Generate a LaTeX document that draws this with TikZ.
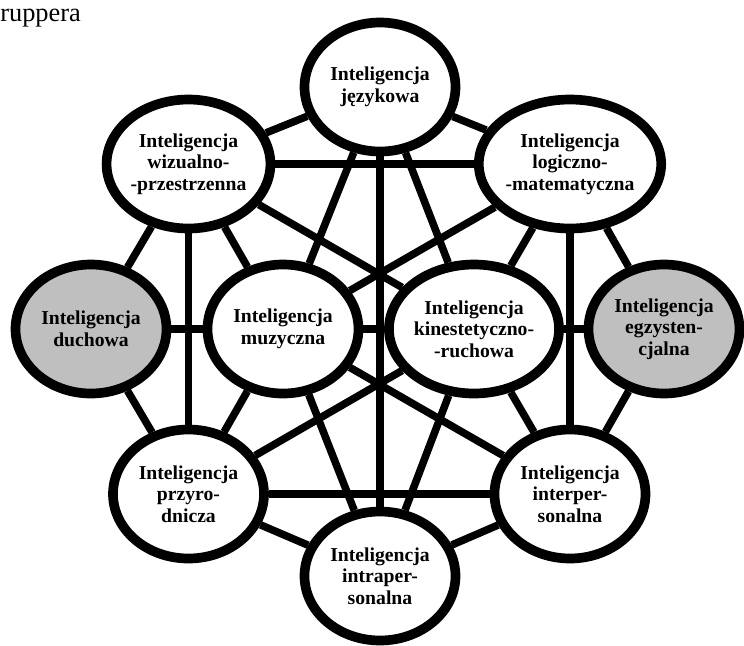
\documentclass[tikz,border=0pt]{standalone}
\usepackage{fontspec}
\setmainfont{Liberation Serif}
\usetikzlibrary{shapes.geometric,backgrounds}

\begin{document}
\begin{tikzpicture}[
  intel/.style={ellipse,draw=black,line width=5.5pt,fill=white,
    minimum width=3.02cm,minimum height=2.58cm,inner sep=0pt,align=center,
    font=\bfseries\fontsize{11.2}{12.2}\selectfont},
  extra/.style={intel,fill=black!25},
  link/.style={line width=4.3pt}]
% \draw[step=1cm,gray,very thin] (0,0) grid (14.88,-12.92);
\useasboundingbox (0,0) rectangle (14.88,-12.92);

\node[anchor=base west,inner sep=0pt,font=\fontsize{15}{18}\selectfont] (title) at (0,-0.42) {ruppera};

\node[intel] (jez) at (7.6,-1.74) {Inteligencja\\językowa};
\node[intel] (wiz) at (3.77,-3.28) {Inteligencja\\wizualno-\\-przestrzenna};
\node[intel] (log) at (11.4,-3.28) {Inteligencja\\logiczno-\\-matematyczna};
\node[extra] (duch) at (1.82,-6.58) {Inteligencja\\duchowa};
\node[intel] (muz) at (5.66,-6.58) {Inteligencja\\muzyczna};
\node[intel] (kin) at (9.48,-6.58) {Inteligencja\\kinestetyczno-\\-ruchowa};
\node[extra] (egz) at (13.28,-6.58) {Inteligencja\\egzysten-\\cjalna};
\node[intel] (prz) at (3.77,-9.88) {Inteligencja\\przyro-\\dnicza};
\node[intel] (ier) at (11.4,-9.88) {Inteligencja\\interper-\\sonalna};
\node[intel] (ira) at (7.6,-11.52) {Inteligencja\\intraper-\\sonalna};

\begin{scope}[on background layer]
% top part
\draw[link] (jez) -- (wiz);
\draw[link] (jez) -- (log);
\draw[link] (wiz) -- (log);
\draw[link] (jez) -- (muz);
\draw[link] (jez) -- (ira);
\draw[link] (jez) -- (kin);
\draw[link] (wiz) -- (duch);
\draw[link] (wiz) -- (prz);
\draw[link] (wiz) -- (muz);
\draw[link] (wiz) -- (kin);
\draw[link] (log) -- (muz);
\draw[link] (log) -- (kin);
\draw[link] (log) -- (ier);
\draw[link] (log) -- (egz);
% middle row
\draw[link] (duch) -- (muz);
\draw[link] (muz) -- (kin);
\draw[link] (kin) -- (egz);
% bottom part
\draw[link] (duch) -- (prz);
\draw[link] (muz) -- (prz);
\draw[link] (kin) -- (prz);
\draw[link] (muz) -- (ira);
\draw[link] (muz) -- (ier);
\draw[link] (kin) -- (ira);
\draw[link] (kin) -- (ier);
\draw[link] (egz) -- (ier);
\draw[link] (prz) -- (ier);
\draw[link] (prz) -- (ira);
\draw[link] (ier) -- (ira);
\end{scope}
\end{tikzpicture}
\end{document}
